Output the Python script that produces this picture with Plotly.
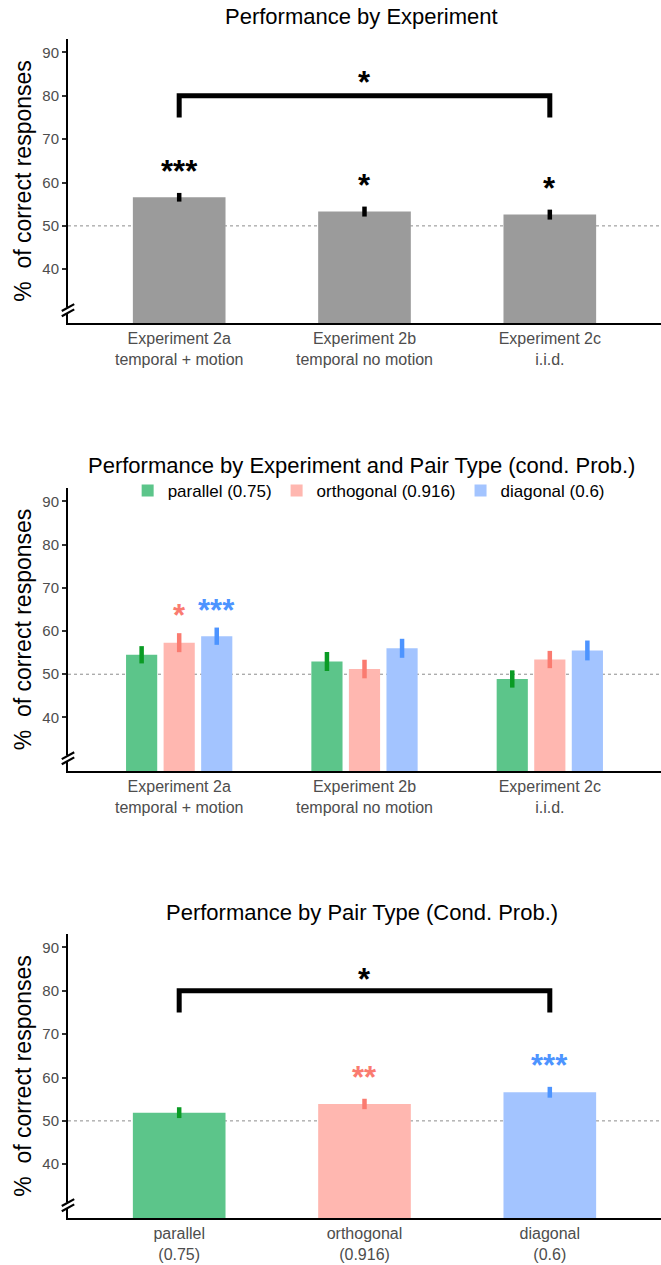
import plotly.graph_objects as go

# ---------------- data ----------------
exp_categories = ["Experiment 2a<br>temporal + motion",
                  "Experiment 2b<br>temporal no motion",
                  "Experiment 2c<br>i.i.d."]
exp_means = [56.6, 53.3, 52.6]
exp_se = [1.0, 1.15, 1.15]
exp_stars = ["***", "*", "*"]

pair_labels = ["parallel (0.75)", "orthogonal (0.916)", "diagonal (0.6)"]
parallel_means = [54.5, 52.95, 48.9]
parallel_se = [2.0, 2.2, 2.0]
orthogonal_means = [57.3, 51.2, 53.4]
orthogonal_se = [2.2, 2.15, 2.0]
diagonal_means = [58.8, 56.0, 55.5]
diagonal_se = [2.0, 2.2, 2.3]
group_stars = {"parallel (0.75)": ["", "", ""],
               "orthogonal (0.916)": ["*", "", ""],
               "diagonal (0.6)": ["***", "", ""]}

pair_categories = ["parallel<br>(0.75)", "orthogonal<br>(0.916)", "diagonal<br>(0.6)"]
pair_means = [51.9, 53.9, 56.6]
pair_se = [1.25, 1.2, 1.25]
pair_stars = ["", "**", "***"]

comparison_top = (exp_categories[0], exp_categories[2], "*")
comparison_bottom = (pair_categories[0], pair_categories[2], "*")
bracket_high, bracket_low = 80, 75
chance = 50

titles = ["Performance by Experiment",
          "Performance by Experiment and Pair Type (cond. Prob.)",
          "Performance by Pair Type (Cond. Prob.)"]
y_ticks = [40, 50, 60, 70, 80, 90]

# ---------------- style ----------------
FONT = "Liberation Sans, Arial, sans-serif"
fills = ["#5CC58A", "#FFB7B0", "#A3C4FF"]
darks = ["#0A9B24", "#FA7B70", "#4D94FF"]
GREY_BAR = "#9B9B9B"
W, H = 661, 1265
ML, MR, MT, MB = 68, 0, 39, 47
PH = H - MT - MB


def py(p):  # pixel y -> paper y
    return (H - MB - p) / PH


domains = [[py(323), py(39)], [py(771), py(488)], [py(1218), py(934)]]
YR = [27.6, 93.1]
XR = [-0.6, 2.6]

fig = go.Figure()

# panel 1
fig.add_trace(go.Bar(x=exp_categories, y=exp_means, width=0.5,
                     marker=dict(color=GREY_BAR, line=dict(width=0)),
                     error_y=dict(type="data", array=exp_se, thickness=4.5, width=0, color="black"),
                     showlegend=False, xaxis="x", yaxis="y"))
fig.add_trace(go.Scatter(x=[comparison_top[0], comparison_top[0], comparison_top[1], comparison_top[1]],
                         y=[bracket_low, bracket_high, bracket_high, bracket_low],
                         mode="lines", line=dict(color="black", width=5),
                         showlegend=False, xaxis="x", yaxis="y"))

# panel 2
for name, m, s, f, d in zip(pair_labels, [parallel_means, orthogonal_means, diagonal_means],
                            [parallel_se, orthogonal_se, diagonal_se], fills, darks):
    fig.add_trace(go.Bar(x=exp_categories, y=m, name=name,
                         marker=dict(color=f, line=dict(width=0)),
                         error_y=dict(type="data", array=s, thickness=4.5, width=0, color=d),
                         showlegend=True, xaxis="x2", yaxis="y2"))

# panel 3 (one trace per pair type so each error bar gets its own colour)
for c, m, s, f, d in zip(pair_categories, pair_means, pair_se, fills, darks):
    fig.add_trace(go.Bar(x=[c], y=[m], width=0.5, offset=-0.25,
                         marker=dict(color=f, line=dict(width=0)),
                         error_y=dict(type="data", array=[s], thickness=4.5, width=0, color=d),
                         showlegend=False, xaxis="x3", yaxis="y3"))
fig.add_trace(go.Scatter(x=[comparison_bottom[0], comparison_bottom[0], comparison_bottom[1], comparison_bottom[1]],
                         y=[bracket_low, bracket_high, bracket_high, bracket_low],
                         mode="lines", line=dict(color="black", width=5),
                         showlegend=False, xaxis="x3", yaxis="y3"))

annotations = []
shapes = []
STAR_SIZE = 31
STAR_SHIFT = -2


def star(t):
    return "<b>" + t + "</b>"


for i, (xa, ya) in enumerate([("x", "y"), ("x2", "y2"), ("x3", "y3")]):
    annotations.append(dict(text=titles[i], x=0.495, xref="paper",
                            y=py([17, 466, 912][i]), yref="paper", showarrow=False,
                            xanchor="center", yanchor="middle",
                            font=dict(size=22, color="black", family=FONT)))
    shapes.append(dict(type="line", xref=xa + " domain", yref=ya, x0=0, x1=1, y0=chance, y1=chance,
                       line=dict(color="#8C8C8C", width=1, dash="dot"), layer="below"))
    # axis break
    shapes.append(dict(type="line", xref="paper", yref=ya, x0=0, x1=0, y0=29.9, y1=31.2,
                       line=dict(color="white", width=5), layer="above"))
    for yb in (29.15, 30.35):
        shapes.append(dict(type="line", xref="paper", yref=ya, x0=-0.0105, x1=0.0105,
                           y0=yb, y1=yb + 1.6, line=dict(color="black", width=2.2), layer="above"))

# stars panel 1
for c, m, s, st in zip(exp_categories, exp_means, exp_se, exp_stars):
    annotations.append(dict(text=star(st), x=c, y=m + s + 5.4, xref="x", yref="y", showarrow=False,
                            yshift=STAR_SHIFT, font=dict(size=STAR_SIZE, color="black", family=FONT)))
annotations.append(dict(text=star(comparison_top[2]), x=1, y=bracket_high + 3.6, xref="x", yref="y",
                        showarrow=False, yshift=STAR_SHIFT,
                        font=dict(size=STAR_SIZE, color="black", family=FONT)))
# stars panel 2
slot = (1 - 0.392) / 3
for k, (name, m, s, d) in enumerate(zip(pair_labels, [parallel_means, orthogonal_means, diagonal_means],
                                        [parallel_se, orthogonal_se, diagonal_se], darks)):
    for j in range(3):
        st = group_stars[name][j]
        if st:
            annotations.append(dict(text=star(st), x=j + (k - 1) * slot, y=m[j] + s[j] + 4.5,
                                    xref="x2", yref="y2", showarrow=False, yshift=STAR_SHIFT,
                                    font=dict(size=STAR_SIZE, color=d, family=FONT)))
# stars panel 3
for j, (c, m, s, st) in enumerate(zip(pair_categories, pair_means, pair_se, pair_stars)):
    if st:
        annotations.append(dict(text=star(st), x=c, y=m + s + 5.3, xref="x3", yref="y3", showarrow=False,
                                yshift=STAR_SHIFT, font=dict(size=STAR_SIZE, color=darks[j], family=FONT)))
annotations.append(dict(text=star(comparison_bottom[2]), x=1, y=bracket_high + 3.0, xref="x3", yref="y3",
                        showarrow=False, yshift=STAR_SHIFT,
                        font=dict(size=STAR_SIZE, color="black", family=FONT)))

xaxis_style = dict(range=XR, showline=True, linecolor="black", linewidth=2, ticks="",
                   showgrid=False, zeroline=False, tickfont=dict(size=16, color="#4D4D4D", family=FONT),
                   fixedrange=True, automargin=False)
yaxis_style = dict(range=YR, showline=True, linecolor="black", linewidth=2, ticks="outside",
                   ticklen=4, tickwidth=1.5, tickcolor="#333333", tickvals=y_ticks,
                   showgrid=False, zeroline=False, tickfont=dict(size=15, color="#4D4D4D", family=FONT),
                   title=dict(text="%\u00a0 of correct responses",
                              font=dict(size=23, color="black", family=FONT), standoff=4),
                   automargin=False, fixedrange=True)

layout = dict(width=W, height=H, margin=dict(l=ML, r=MR, t=MT, b=MB),
              plot_bgcolor="white", paper_bgcolor="white",
              font=dict(family=FONT), barmode="group", bargap=0.392, bargroupgap=0.17,
              annotations=annotations, shapes=shapes,
              legend=dict(orientation="h", x=0.507, xanchor="center", y=py(491), yanchor="middle",
                          font=dict(size=17, color="black", family=FONT), bgcolor="rgba(0,0,0,0)",
                          traceorder="normal"))
for i, suffix in enumerate(["", "2", "3"]):
    layout["xaxis" + suffix] = dict(xaxis_style, anchor="y" + suffix, domain=[0, 1])
    layout["yaxis" + suffix] = dict(yaxis_style, anchor="x" + suffix, domain=domains[i])

fig.update_layout(**layout)
fig.write_html("out.html", config={"displayModeBar": False},
               post_script="document.body.style.margin='0';document.body.style.overflow='hidden';")
